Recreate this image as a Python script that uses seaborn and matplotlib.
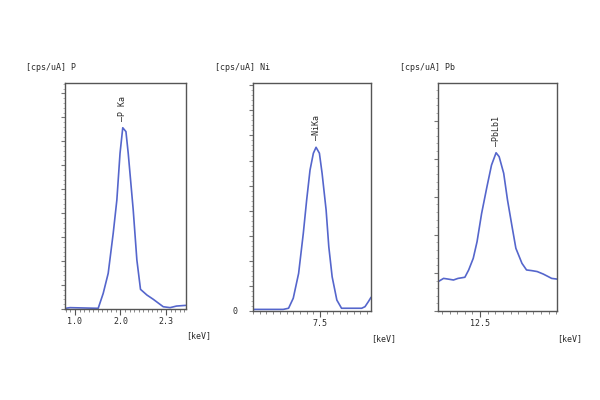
import numpy as np
import pandas as pd
import matplotlib
matplotlib.use('Agg')
import matplotlib.pyplot as plt
import seaborn as sns
from matplotlib.ticker import MultipleLocator

# spectra (x in keV, y as fraction of the plot height)
p_kev = [0.79, 0.89, 1.51, 1.62, 1.73, 1.84, 1.92, 1.99, 2.05, 2.12, 2.17, 2.28,
         2.36, 2.44, 2.58, 2.72, 2.94, 3.09, 3.23, 3.43]
p_cps = [0.003, 0.006, 0.003, 0.069, 0.158, 0.335, 0.482, 0.689, 0.802, 0.785,
         0.689, 0.438, 0.217, 0.087, 0.062, 0.043, 0.010, 0.006, 0.013, 0.016]

ni_kev = [6.50, 6.95, 7.03, 7.10, 7.18, 7.25, 7.30, 7.35, 7.40, 7.44, 7.49, 7.53,
          7.59, 7.63, 7.68, 7.75, 7.82, 8.12, 8.17, 8.22, 8.26]
ni_cps = [0.007, 0.007, 0.012, 0.056, 0.165, 0.341, 0.487, 0.618, 0.692, 0.718,
          0.692, 0.604, 0.443, 0.282, 0.150, 0.048, 0.012, 0.012, 0.019, 0.041, 0.060]

pb_kev = [11.95, 12.02, 12.08, 12.15, 12.21, 12.30, 12.35, 12.41, 12.46, 12.52,
          12.59, 12.65, 12.71, 12.75, 12.81, 12.86, 12.92, 12.97, 13.05, 13.11,
          13.18, 13.25, 13.33, 13.40, 13.44, 13.51]
pb_cps = [0.129, 0.143, 0.140, 0.136, 0.143, 0.148, 0.180, 0.231, 0.304, 0.428,
          0.545, 0.640, 0.694, 0.677, 0.604, 0.487, 0.370, 0.275, 0.209, 0.180,
          0.177, 0.173, 0.162, 0.150, 0.143, 0.140]

elements = ['P', 'Ni', 'Pb']
peak_labels = ['\u2014P Ka', '\u2014NiKa', '\u2014PbLb1']
tick_pos = [[1.0, 2.0, 3.0], [7.5], [12.5]]
tick_labels = [['1.0', '2.0', '2.3'], ['7.5'], ['12.5']]
x_limits = [(0.78, 3.44), (6.5, 8.26), (11.947, 13.51)]
y_step = [0.106, 0.11, 0.167]

spectra = [(p_kev, p_cps), (ni_kev, ni_cps), (pb_kev, pb_cps)]
boxes = [[0.1083, 0.2275, 0.2017, 0.565],
         [0.4217, 0.2225, 0.1967, 0.57],
         [0.73, 0.2225, 0.1983, 0.57]]

sns.set_style('white')
plt.rcParams['font.family'] = ['DejaVu Sans Mono']
line_color = '#5566cc'
ink = '#2a2a2a'
fs = 6

fig = plt.figure(figsize=(6, 4), dpi=100)

for i, (kev, cps) in enumerate(spectra):
    ax = fig.add_axes(boxes[i])
    df = pd.DataFrame({'keV': kev, 'cps': cps})
    sns.lineplot(data=df, x='keV', y='cps', ax=ax, color=line_color, lw=1.2)
    ax.set_xlim(*x_limits[i])
    ax.set_ylim(0, 1)
    ax.set_xlabel('')
    ax.set_ylabel('')
    for s in ax.spines.values():
        s.set_color('#555555')
        s.set_linewidth(1.0)

    ax.set_xticks(tick_pos[i])
    ax.set_xticklabels(tick_labels[i], fontsize=fs, color=ink)
    ax.xaxis.set_minor_locator(MultipleLocator(0.1))
    ax.tick_params(axis='x', which='major', direction='out', length=4,
                   width=0.8, color='#555555', pad=2, bottom=True)
    ax.tick_params(axis='x', which='minor', direction='out', length=2,
                   width=0.6, color='#777777', bottom=True)

    ax.set_yticks(np.arange(0, 1, y_step[i]))
    ax.yaxis.set_minor_locator(MultipleLocator(y_step[i] / 5))
    if elements[i] == 'Ni':
        ylabels = ['0'] + [''] * (len(ax.get_yticks()) - 1)
    else:
        ylabels = [''] * len(ax.get_yticks())
    ax.set_yticklabels(ylabels, fontsize=fs, color=ink)
    ax.tick_params(axis='y', which='major', direction='out', length=3,
                   width=0.8, color='#777777', pad=8, left=True)
    ax.tick_params(axis='y', which='minor', direction='out', length=1.5,
                   width=0.5, color='#999999', left=True)

    # peak marker text
    k = int(np.argmax(cps))
    ax.annotate(peak_labels[i], xy=(kev[k], cps[k]), xytext=(0, 5),
                textcoords='offset points', rotation=90, ha='center',
                va='bottom', fontsize=fs, color=ink)

    # header and unit text
    ax.text(-0.32, 1.05, '[cps/uA] ' + elements[i], transform=ax.transAxes,
            fontsize=fs, color=ink, ha='left', va='bottom')
    ax.text(1.0, -0.1, '[keV]', transform=ax.transAxes,
            fontsize=fs, color=ink, ha='left', va='top')

fig.savefig('out.png', dpi=100, facecolor='white')
